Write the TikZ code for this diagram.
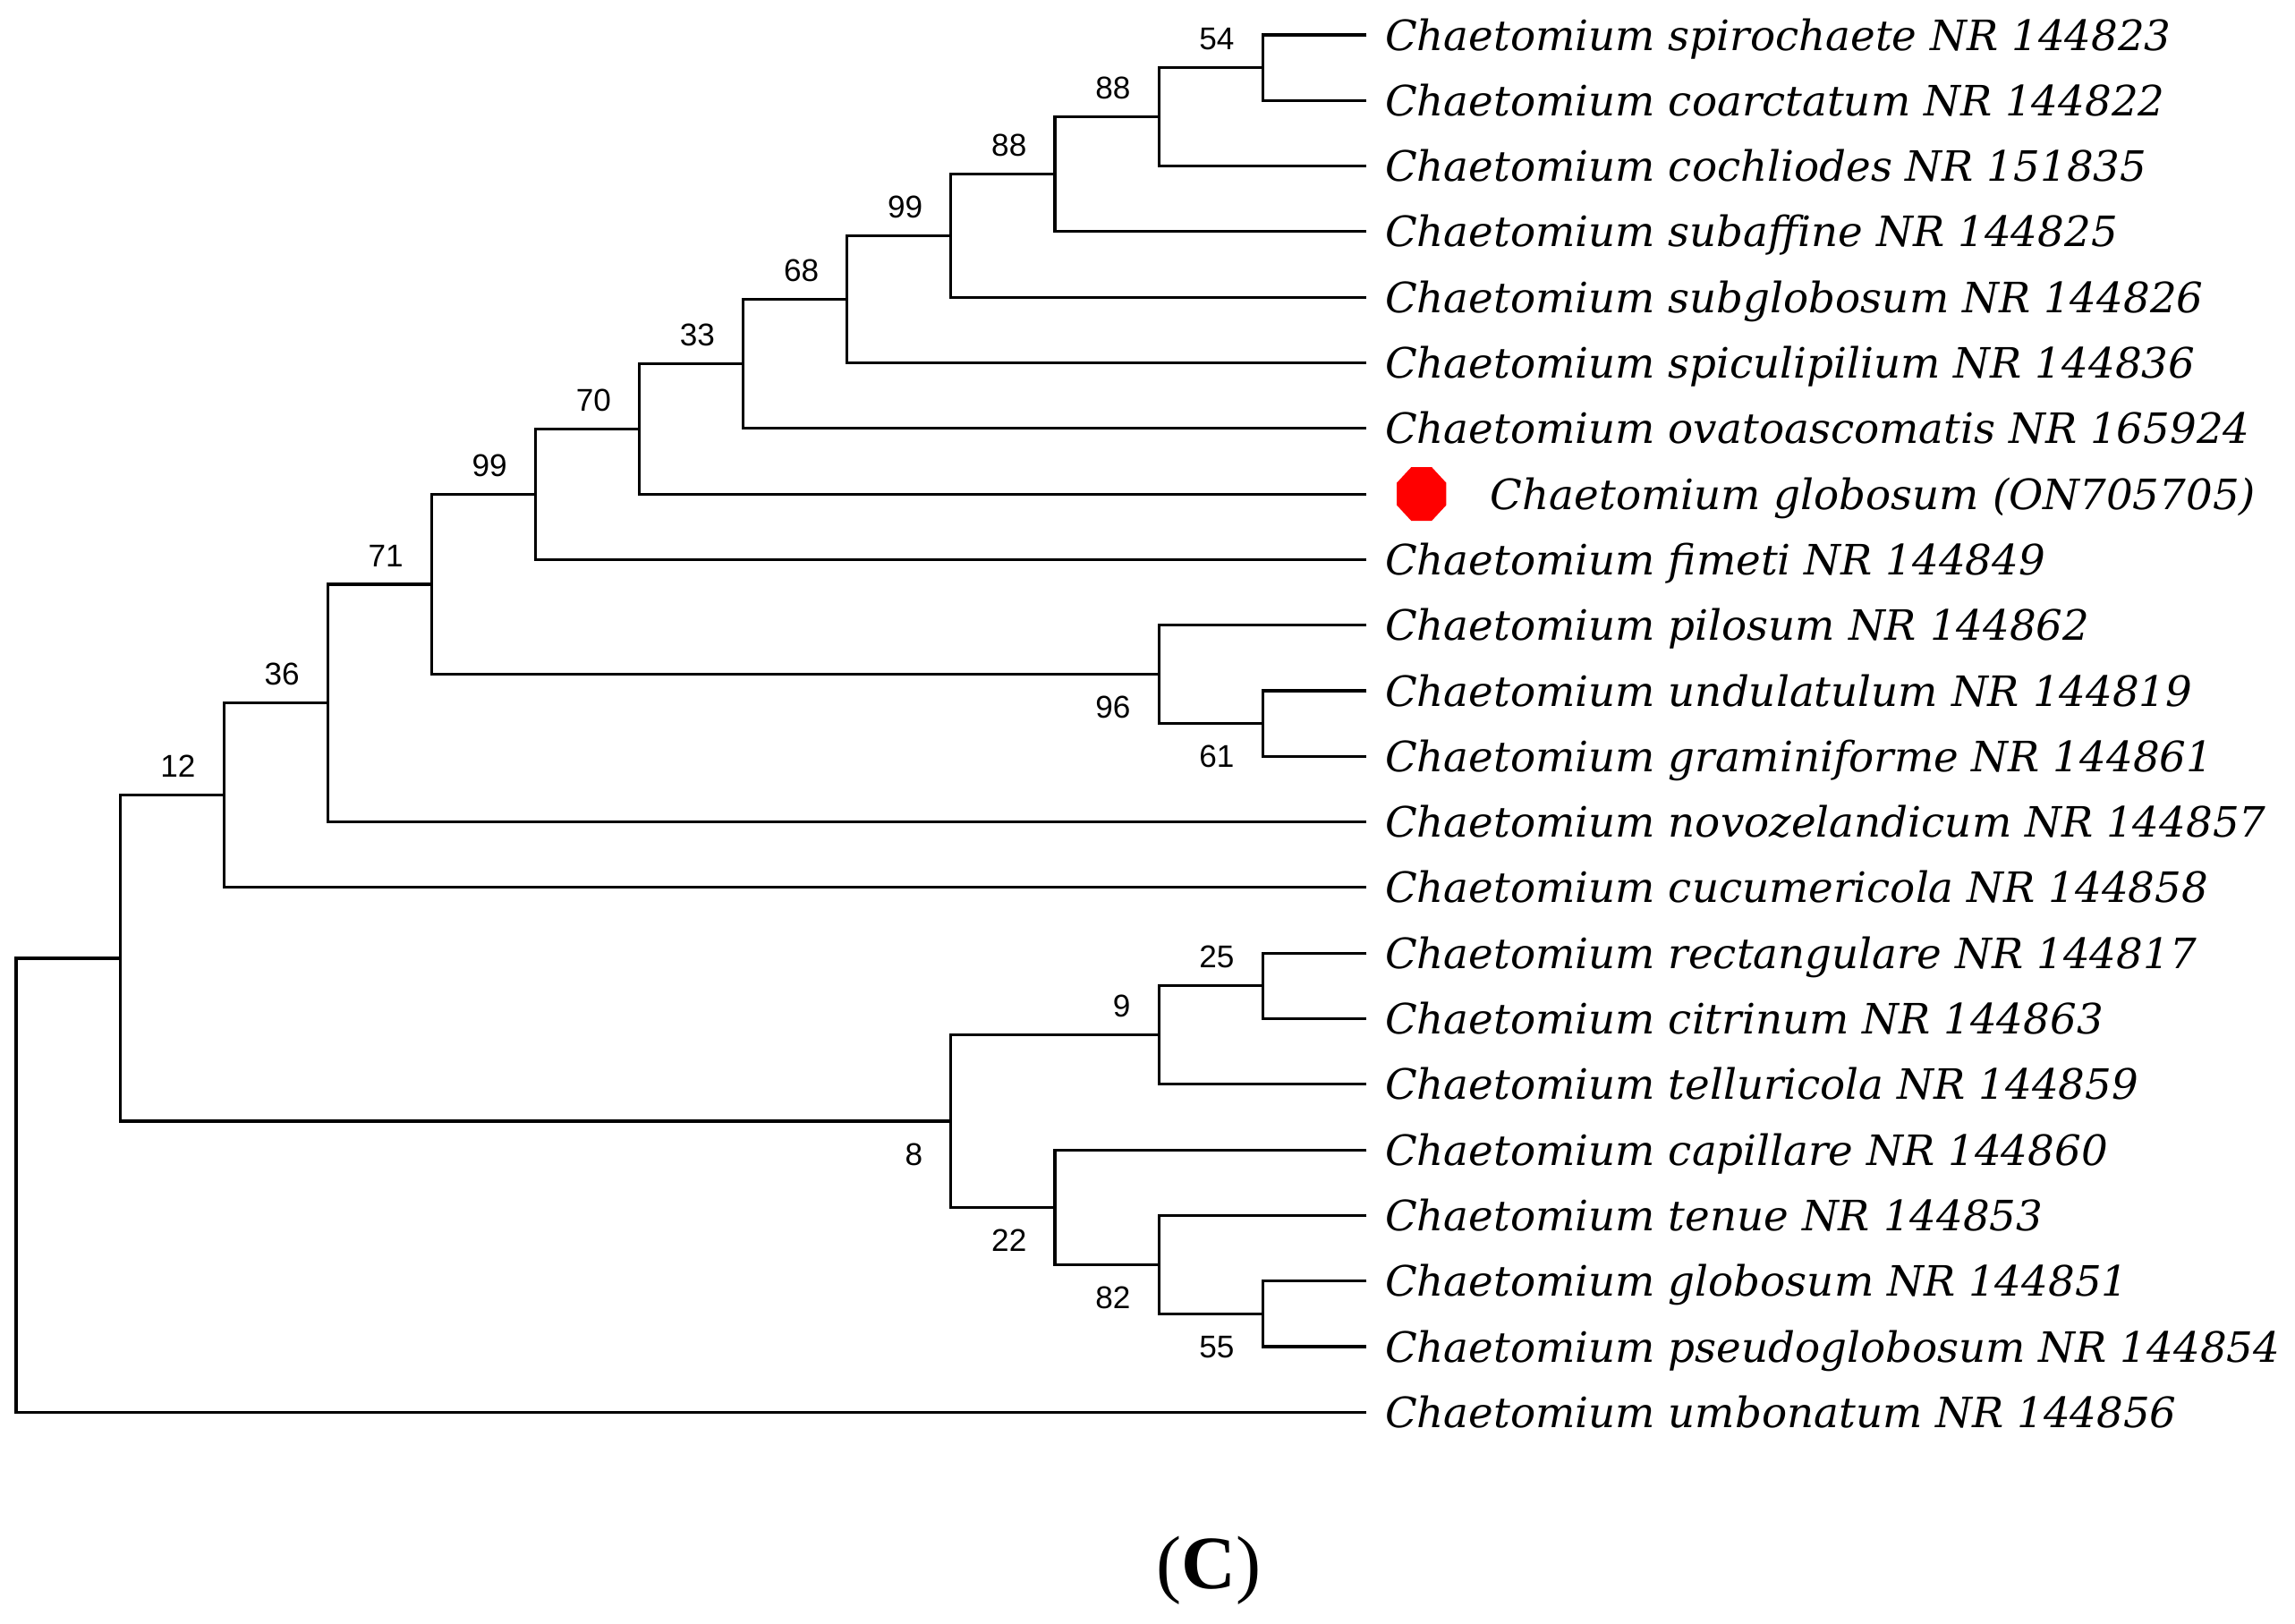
\documentclass[tikz,border=0pt]{standalone}
\usepackage{fontspec}
\setmainfont{Liberation Serif}
\newfontfamily\taxonfont{DejaVu Serif}
\newfontfamily\supportfont{Liberation Sans}
\usetikzlibrary{positioning,shapes.geometric}

\begin{document}
\begin{tikzpicture}[x = 1.161cm, y = -0.733cm,
        branch/.style = {line width = 0.9pt},
        taxon/.style = {inner sep = 0, text height = 9.7pt, text depth = 0pt,
            font = \taxonfont\itshape\fontsize{13.3}{16}\selectfont},
        support/.style = {inner sep = 0, font = \supportfont\fontsize{10}{12}\selectfont},
        up/.style = {support, anchor = base east, xshift = -0.31cm, yshift = 0.2cm},
        down/.style = {support, anchor = base east, xshift = -0.31cm, yshift = -0.49cm},
        isolate/.style = {regular polygon, regular polygon sides = 8, fill = red,
            inner sep = 0, minimum size = 0.6cm, yscale = 1.08}]
        \useasboundingbox (-0.155, 0.468) rectangle (21.938, 25.229);
        \coordinate (e1) at (13, 1);
        \coordinate (e2) at (13, 2);
        \coordinate (e3) at (13, 3);
        \coordinate (e4) at (13, 4);
        \coordinate (e5) at (13, 5);
        \coordinate (e6) at (13, 6);
        \coordinate (e7) at (13, 7);
        \coordinate (e8) at (13, 8);
        \coordinate (e9) at (13, 9);
        \coordinate (e10) at (13, 10);
        \coordinate (e11) at (13, 11);
        \coordinate (e12) at (13, 12);
        \coordinate (e13) at (13, 13);
        \coordinate (e14) at (13, 14);
        \coordinate (e15) at (13, 15);
        \coordinate (e16) at (13, 16);
        \coordinate (e17) at (13, 17);
        \coordinate (e18) at (13, 18);
        \coordinate (e19) at (13, 19);
        \coordinate (e20) at (13, 20);
        \coordinate (e21) at (13, 21);
        \coordinate (e22) at (13, 22);
        \node[taxon, right = 0.2cm of e1] (t1) {Chaetomium spirochaete NR 144823};
        \node[taxon, right = 0.2cm of e2] (t2) {Chaetomium coarctatum NR 144822};
        \node[taxon, right = 0.2cm of e3] (t3) {Chaetomium cochliodes NR 151835};
        \node[taxon, right = 0.2cm of e4] (t4) {Chaetomium subaffine NR 144825};
        \node[taxon, right = 0.2cm of e5] (t5) {Chaetomium subglobosum NR 144826};
        \node[taxon, right = 0.2cm of e6] (t6) {Chaetomium spiculipilium NR 144836};
        \node[taxon, right = 0.2cm of e7] (t7) {Chaetomium ovatoascomatis NR 165924};
        \node[isolate, right = 0.33cm of e8] (dot) {};
        \node[taxon, right = 0.48cm of dot] (t8) {Chaetomium globosum (ON705705)};
        \node[taxon, right = 0.2cm of e9] (t9) {Chaetomium fimeti NR 144849};
        \node[taxon, right = 0.2cm of e10] (t10) {Chaetomium pilosum NR 144862};
        \node[taxon, right = 0.2cm of e11] (t11) {Chaetomium undulatulum NR 144819};
        \node[taxon, right = 0.2cm of e12] (t12) {Chaetomium graminiforme NR 144861};
        \node[taxon, right = 0.2cm of e13] (t13) {Chaetomium novozelandicum NR 144857};
        \node[taxon, right = 0.2cm of e14] (t14) {Chaetomium cucumericola NR 144858};
        \node[taxon, right = 0.2cm of e15] (t15) {Chaetomium rectangulare NR 144817};
        \node[taxon, right = 0.2cm of e16] (t16) {Chaetomium citrinum NR 144863};
        \node[taxon, right = 0.2cm of e17] (t17) {Chaetomium telluricola NR 144859};
        \node[taxon, right = 0.2cm of e18] (t18) {Chaetomium capillare NR 144860};
        \node[taxon, right = 0.2cm of e19] (t19) {Chaetomium tenue NR 144853};
        \node[taxon, right = 0.2cm of e20] (t20) {Chaetomium globosum NR 144851};
        \node[taxon, right = 0.2cm of e21] (t21) {Chaetomium pseudoglobosum NR 144854};
        \node[taxon, right = 0.2cm of e22] (t22) {Chaetomium umbonatum NR 144856};
        \coordinate (k54) at (12, 1.5);
        \coordinate (k88i) at (11, 2.25);
        \coordinate (k88o) at (10, 3.125);
        \coordinate (k99i) at (9, 4.0625);
        \coordinate (k68) at (8, 5.03125);
        \coordinate (k33) at (7, 6.0156);
        \coordinate (k70) at (6, 7.0078);
        \coordinate (k99o) at (5, 8.0039);
        \coordinate (k61) at (12, 11.5);
        \coordinate (k96) at (11, 10.75);
        \coordinate (k71) at (4, 9.377);
        \coordinate (k36) at (3, 11.189);
        \coordinate (k12) at (2, 12.594);
        \coordinate (k25) at (12, 15.5);
        \coordinate (k9) at (11, 16.25);
        \coordinate (k55) at (12, 20.5);
        \coordinate (k82) at (11, 19.75);
        \coordinate (k22) at (10, 18.875);
        \coordinate (k8) at (9, 17.5625);
        \coordinate (kin) at (1, 15.078);
        \coordinate (root) at (0, 18.539);
        \draw[branch] (e1) -| (k54) |- (e2);
        \draw[branch] (k54) -| (k88i) |- (e3);
        \draw[branch] (k88i) -| (k88o) |- (e4);
        \draw[branch] (k88o) -| (k99i) |- (e5);
        \draw[branch] (k99i) -| (k68) |- (e6);
        \draw[branch] (k68) -| (k33) |- (e7);
        \draw[branch] (k33) -| (k70) |- (e8);
        \draw[branch] (k70) -| (k99o) |- (e9);
        \draw[branch] (e11) -| (k61) |- (e12);
        \draw[branch] (e10) -| (k96) |- (k61);
        \draw[branch] (k99o) -| (k71) |- (k96);
        \draw[branch] (k71) -| (k36) |- (e13);
        \draw[branch] (k36) -| (k12) |- (e14);
        \draw[branch] (e15) -| (k25) |- (e16);
        \draw[branch] (k25) -| (k9) |- (e17);
        \draw[branch] (e20) -| (k55) |- (e21);
        \draw[branch] (e19) -| (k82) |- (k55);
        \draw[branch] (e18) -| (k22) |- (k82);
        \draw[branch] (k9) -| (k8) |- (k22);
        \draw[branch] (k12) -| (kin) |- (k8);
        \draw[branch] (kin) -| (root) |- (e22);
        \node[up] at (k54) (s54) {54};
        \node[up] at (k88i) (s88i) {88};
        \node[up] at (k88o) (s88o) {88};
        \node[up] at (k99i) (s99i) {99};
        \node[up] at (k68) (s68) {68};
        \node[up] at (k33) (s33) {33};
        \node[up] at (k70) (s70) {70};
        \node[up] at (k99o) (s99o) {99};
        \node[up] at (k71) (s71) {71};
        \node[up] at (k36) (s36) {36};
        \node[up] at (k12) (s12) {12};
        \node[up] at (k25) (s25) {25};
        \node[up] at (k9) (s9) {9};
        \node[down] at (k96) (s96) {96};
        \node[down] at (k61) (s61) {61};
        \node[down] at (k8) (s8) {8};
        \node[down] at (k22) (s22) {22};
        \node[down] at (k82) (s82) {82};
        \node[down] at (k55) (s55) {55};
        \node[font = \fontsize{24}{28}\selectfont] at (11.48, 24.41) (panel) {(\textbf{C})};
    \end{tikzpicture}
\end{document}
